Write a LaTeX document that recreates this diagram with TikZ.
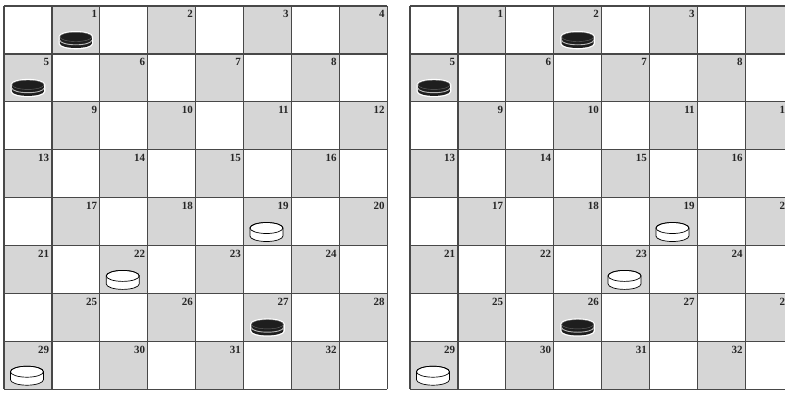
\documentclass[tikz,border=0pt]{standalone}
\usepackage{fontspec}
\setmainfont{Liberation Serif}
\definecolor{sqshade}{RGB}{214,214,214}
\definecolor{gridc}{RGB}{72,72,72}
\definecolor{piecedark}{RGB}{30,30,30}
\tikzset{
  numstyle/.style={anchor=north east, inner sep=0pt, font=\fontsize{11}{11}\selectfont\bfseries, text=black!85},
  gridline/.style={draw=gridc, line width=1.2pt},
  darksq/.style={fill=sqshade},
}
\newcommand\bpbody{(-16,-10.5) arc[start angle=180,end angle=360,x radius=16pt,y radius=4.6pt] -- (16,-17) arc[start angle=0,end angle=180,x radius=16pt,y radius=4.6pt] -- cycle}
\newcommand\wpbody{(-16.5,-9.5) arc[start angle=180,end angle=360,x radius=16.5pt,y radius=5.5pt] -- (16.5,-17.5) arc[start angle=0,end angle=180,x radius=16.5pt,y radius=5.5pt] -- cycle}
\newcommand\blackpc[2]{%
  \begin{scope}[shift={(#1,#2)}]
    \draw[white, line width=2.6pt, fill=white] \bpbody;
    \fill[piecedark] \bpbody;
    \draw[gray!55, line width=0.9pt] (-16,-13.7) arc[start angle=180,end angle=360,x radius=16pt,y radius=4.6pt];
    \draw[black!60, line width=0.4pt] (0,-17) ellipse[x radius=16pt,y radius=4.6pt];
  \end{scope}}
\newcommand\whitepc[2]{%
  \begin{scope}[shift={(#1,#2)}]
    \draw[black, line width=0.7pt, fill=white] \wpbody;
    \draw[black, line width=0.7pt] (0,-17.5) ellipse[x radius=16.5pt,y radius=5.5pt];
  \end{scope}}
\newcommand\drawboard[3]{%
  \def\bx{#1}\def\by{6}\def\cs{47.9}%
  \foreach \n in {1,...,32}{
    \pgfmathtruncatemacro\rr{int((\n-1)/4)}
    \pgfmathtruncatemacro\cc{2*mod(\n-1,4)+1-mod(\rr,2)}
    \fill[darksq] ({\bx+\cc*\cs},{\by+\rr*\cs}) rectangle ++(\cs,\cs);
    \node[numstyle] (n#1-\n) at ({\bx+(\cc+1)*\cs-2.5},{\by+\rr*\cs+4.5}) {\n};
  }
  \foreach \i in {0,...,8}{
    \draw[gridline] ({\bx+\i*\cs},\by) -- ({\bx+\i*\cs},{\by+8*\cs});
    \draw[gridline] (\bx,{\by+\i*\cs}) -- ({\bx+8*\cs},{\by+\i*\cs});
  }
  \foreach \n in {#2}{
    \pgfmathtruncatemacro\rr{int((\n-1)/4)}
    \pgfmathtruncatemacro\cc{2*mod(\n-1,4)+1-mod(\rr,2)}
    \pgfmathsetmacro\px{\bx+(\cc+0.5)*\cs}
    \pgfmathsetmacro\py{\by+(\rr+1)*\cs}
    \blackpc{\px}{\py}
  }
  \foreach \n in {#3}{
    \pgfmathtruncatemacro\rr{int((\n-1)/4)}
    \pgfmathtruncatemacro\cc{2*mod(\n-1,4)+1-mod(\rr,2)}
    \pgfmathsetmacro\px{\bx+(\cc+0.5)*\cs-1}
    \pgfmathsetmacro\py{\by+(\rr+1)*\cs}
    \whitepc{\px}{\py}
  }
}
\begin{document}
\begin{tikzpicture}[x=1pt,y=-1pt]
\useasboundingbox (0,0) rectangle (785,394);
\fill[white] (0,0) rectangle (785,394);
\clip (0,0) rectangle (785,394);
\drawboard{4}{1,5,27}{19,22,29}
\drawboard{410}{2,5,26}{19,23,29}
\end{tikzpicture}
\end{document}
